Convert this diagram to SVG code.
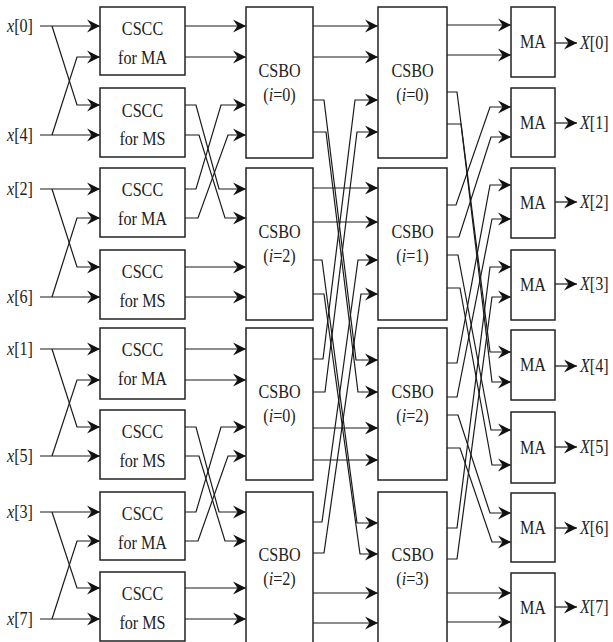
<svg xmlns="http://www.w3.org/2000/svg" width="613" height="642" viewBox="0 0 613 642" font-family="'Liberation Serif', 'Times New Roman', Times, serif">
<defs>
<marker id="ah" markerUnits="userSpaceOnUse" markerWidth="16" markerHeight="16" viewBox="-14 -8 16 16" refX="0" refY="0" orient="auto">
<path d="M0,0 L-13,-6.5 L-8.5,0 L-13,6.5 Z" fill="#111"/>
</marker>
</defs>
<style>
.box{fill:#fff;stroke:#222;stroke-width:1.5}
.t{font-family:'Liberation Serif','Times New Roman',Times,serif;font-size:19px;fill:#222}
.m{text-anchor:middle}
.i{font-style:italic}
.w{fill:none;stroke:#1a1a1a;stroke-width:1.2;marker-end:url(#ah)}
</style>
<rect width="613" height="642" fill="#fff"/>

<g id="connectors">
<path class="w" d="M40,26 H100"/><path class="w" d="M52,26 L77,105 H100"/><path class="w" d="M40,135 H100"/><path class="w" d="M52,135 L77,57 H100"/>
<path class="w" d="M40,189 H100"/><path class="w" d="M52,189 L77,267 H100"/><path class="w" d="M40,297 H100"/><path class="w" d="M52,297 L77,218 H100"/>
<path class="w" d="M40,349 H100"/><path class="w" d="M52,349 L77,427 H100"/><path class="w" d="M40,456 H100"/><path class="w" d="M52,456 L77,380 H100"/>
<path class="w" d="M40,512 H100"/><path class="w" d="M52,512 L77,588 H100"/><path class="w" d="M40,619 H100"/><path class="w" d="M52,619 L77,541 H100"/>
<path class="w" d="M185,26 H246"/><path class="w" d="M185,57 H246"/>
<path class="w" d="M185,267 H246"/><path class="w" d="M185,297 H246"/>
<path class="w" d="M185,349 H246"/><path class="w" d="M185,380 H246"/>
<path class="w" d="M185,588 H246"/><path class="w" d="M185,619 H246"/>
<path class="w" d="M185,105 H196 L219,189 H246"/>
<path class="w" d="M185,135 H199 L225,218 H246"/>
<path class="w" d="M185,189 H196 L221,105 H246"/>
<path class="w" d="M185,218 H198 L228,135 H246"/>
<path class="w" d="M185,427 H196 L219,512 H246"/>
<path class="w" d="M185,456 H199 L225,541 H246"/>
<path class="w" d="M185,512 H196 L221,427 H246"/>
<path class="w" d="M185,541 H198 L228,456 H246"/>
<path class="w" d="M313,26 H378"/><path class="w" d="M313,57 H378"/>
<path class="w" d="M313,188 H378"/><path class="w" d="M313,222 H378"/>
<path class="w" d="M313,428 H378"/><path class="w" d="M313,460 H378"/>
<path class="w" d="M313,593 H378"/><path class="w" d="M313,623 H378"/>
<path class="w" d="M313,100 H324 L356,360 H378"/>
<path class="w" d="M313,132 H326 L358,392 H378"/>
<path class="w" d="M313,359 H323 L355,100 H378"/>
<path class="w" d="M313,392 H325 L357,132 H378"/>
<path class="w" d="M313,260 H322 L357,523 H378"/>
<path class="w" d="M313,294 H324 L360,554 H378"/>
<path class="w" d="M313,522 H322 L358,260 H378"/>
<path class="w" d="M313,553 H324 L361,294 H378"/>
<path class="w" d="M447,25 H511"/><path class="w" d="M447,55 H511"/>
<path class="w" d="M447,593 H511"/><path class="w" d="M447,622 H511"/>
<path class="w" d="M447,92 H457 L490,352 H511"/>
<path class="w" d="M447,124 H461 L492,382 H511"/>
<path class="w" d="M447,205 H456 L490,107 H511"/>
<path class="w" d="M447,237 H459 L491,137 H511"/>
<path class="w" d="M447,255 H458 L491,430 H511"/>
<path class="w" d="M447,288 H460 L492,465 H511"/>
<path class="w" d="M447,363 H457 L490,185 H511"/>
<path class="w" d="M447,397 H457 L492,219 H511"/>
<path class="w" d="M447,415 H458 L490,513 H511"/>
<path class="w" d="M447,448 H460 L492,542 H511"/>
<path class="w" d="M447,528 H457 L490,267 H511"/>
<path class="w" d="M447,559 H457 L492,297 H511"/>
<path class="w" d="M555,43 H577"/><path class="w" d="M555,123 H577"/>
<path class="w" d="M555,202 H577"/><path class="w" d="M555,284 H577"/>
<path class="w" d="M555,366 H577"/><path class="w" d="M555,447 H577"/>
<path class="w" d="M555,528 H577"/><path class="w" d="M555,607 H577"/>
</g>

<g id="in0"><text class="t" transform="translate(7,32) scale(0.85,1)"><tspan class="i">x</tspan>[0]</text></g>
<g id="in4"><text class="t" transform="translate(7,141) scale(0.85,1)"><tspan class="i">x</tspan>[4]</text></g>
<g id="in2"><text class="t" transform="translate(7,195) scale(0.85,1)"><tspan class="i">x</tspan>[2]</text></g>
<g id="in6"><text class="t" transform="translate(7,303) scale(0.85,1)"><tspan class="i">x</tspan>[6]</text></g>
<g id="in1"><text class="t" transform="translate(7,355) scale(0.85,1)"><tspan class="i">x</tspan>[1]</text></g>
<g id="in5"><text class="t" transform="translate(7,462) scale(0.85,1)"><tspan class="i">x</tspan>[5]</text></g>
<g id="in3"><text class="t" transform="translate(7,518) scale(0.85,1)"><tspan class="i">x</tspan>[3]</text></g>
<g id="in7"><text class="t" transform="translate(7,625) scale(0.85,1)"><tspan class="i">x</tspan>[7]</text></g>

<g id="cscc1"><rect class="box" x="100" y="7" width="85" height="68"/><text class="t m" transform="translate(142.5,35) scale(0.85,1)">CSCC</text><text class="t m" transform="translate(142.5,64) scale(0.85,1)">for MA</text></g>
<g id="cscc2"><rect class="box" x="100" y="88" width="85" height="69"/><text class="t m" transform="translate(142.5,117) scale(0.85,1)">CSCC</text><text class="t m" transform="translate(142.5,145) scale(0.85,1)">for MS</text></g>
<g id="cscc3"><rect class="box" x="100" y="168" width="85" height="69"/><text class="t m" transform="translate(142.5,196) scale(0.85,1)">CSCC</text><text class="t m" transform="translate(142.5,225) scale(0.85,1)">for MA</text></g>
<g id="cscc4"><rect class="box" x="100" y="250" width="85" height="69"/><text class="t m" transform="translate(142.5,278) scale(0.85,1)">CSCC</text><text class="t m" transform="translate(142.5,307) scale(0.85,1)">for MS</text></g>
<g id="cscc5"><rect class="box" x="100" y="328" width="85" height="71"/><text class="t m" transform="translate(142.5,356) scale(0.85,1)">CSCC</text><text class="t m" transform="translate(142.5,385) scale(0.85,1)">for MA</text></g>
<g id="cscc6"><rect class="box" x="100" y="410" width="85" height="69"/><text class="t m" transform="translate(142.5,438) scale(0.85,1)">CSCC</text><text class="t m" transform="translate(142.5,467) scale(0.85,1)">for MS</text></g>
<g id="cscc7"><rect class="box" x="100" y="492" width="85" height="68"/><text class="t m" transform="translate(142.5,520) scale(0.85,1)">CSCC</text><text class="t m" transform="translate(142.5,549) scale(0.85,1)">for MA</text></g>
<g id="cscc8"><rect class="box" x="100" y="572" width="85" height="69"/><text class="t m" transform="translate(142.5,600) scale(0.85,1)">CSCC</text><text class="t m" transform="translate(142.5,629) scale(0.85,1)">for MS</text></g>

<g id="csboA0"><rect class="box" x="246" y="7" width="67" height="151"/><text class="t m" transform="translate(279.5,77) scale(0.85,1)">CSBO</text><text class="t m" transform="translate(279.5,101) scale(0.85,1)">(<tspan class="i">i</tspan>=0)</text></g>
<g id="csboA1"><rect class="box" x="246" y="168" width="67" height="152"/><text class="t m" transform="translate(279.5,238) scale(0.85,1)">CSBO</text><text class="t m" transform="translate(279.5,262) scale(0.85,1)">(<tspan class="i">i</tspan>=2)</text></g>
<g id="csboA2"><rect class="box" x="246" y="328" width="67" height="152"/><text class="t m" transform="translate(279.5,398) scale(0.85,1)">CSBO</text><text class="t m" transform="translate(279.5,422) scale(0.85,1)">(<tspan class="i">i</tspan>=0)</text></g>
<g id="csboA3"><rect class="box" x="246" y="492" width="67" height="160"/><text class="t m" transform="translate(279.5,561) scale(0.85,1)">CSBO</text><text class="t m" transform="translate(279.5,585) scale(0.85,1)">(<tspan class="i">i</tspan>=2)</text></g>

<g id="csboB0"><rect class="box" x="378" y="7" width="69" height="151"/><text class="t m" transform="translate(412.5,77) scale(0.85,1)">CSBO</text><text class="t m" transform="translate(412.5,101) scale(0.85,1)">(<tspan class="i">i</tspan>=0)</text></g>
<g id="csboB1"><rect class="box" x="378" y="168" width="69" height="152"/><text class="t m" transform="translate(412.5,238) scale(0.85,1)">CSBO</text><text class="t m" transform="translate(412.5,262) scale(0.85,1)">(<tspan class="i">i</tspan>=1)</text></g>
<g id="csboB2"><rect class="box" x="378" y="328" width="69" height="152"/><text class="t m" transform="translate(412.5,398) scale(0.85,1)">CSBO</text><text class="t m" transform="translate(412.5,422) scale(0.85,1)">(<tspan class="i">i</tspan>=2)</text></g>
<g id="csboB3"><rect class="box" x="378" y="492" width="69" height="160"/><text class="t m" transform="translate(412.5,561) scale(0.85,1)">CSBO</text><text class="t m" transform="translate(412.5,585) scale(0.85,1)">(<tspan class="i">i</tspan>=3)</text></g>

<g id="ma0"><rect class="box" x="511" y="7" width="44" height="70"/><text class="t m" transform="translate(533,48) scale(0.85,1)">MA</text></g>
<g id="ma1"><rect class="box" x="511" y="88" width="44" height="69"/><text class="t m" transform="translate(533,129) scale(0.85,1)">MA</text></g>
<g id="ma2"><rect class="box" x="511" y="168" width="44" height="70"/><text class="t m" transform="translate(533,209) scale(0.85,1)">MA</text></g>
<g id="ma3"><rect class="box" x="511" y="250" width="44" height="70"/><text class="t m" transform="translate(533,291) scale(0.85,1)">MA</text></g>
<g id="ma4"><rect class="box" x="511" y="330" width="44" height="70"/><text class="t m" transform="translate(533,371) scale(0.85,1)">MA</text></g>
<g id="ma5"><rect class="box" x="511" y="412" width="44" height="71"/><text class="t m" transform="translate(533,454) scale(0.85,1)">MA</text></g>
<g id="ma6"><rect class="box" x="511" y="493" width="44" height="69"/><text class="t m" transform="translate(533,534) scale(0.85,1)">MA</text></g>
<g id="ma7"><rect class="box" x="511" y="573" width="44" height="75"/><text class="t m" transform="translate(533,614) scale(0.85,1)">MA</text></g>

<g id="out0"><text class="t" transform="translate(580,49) scale(0.85,1)"><tspan class="i">X</tspan>[0]</text></g>
<g id="out1"><text class="t" transform="translate(580,129) scale(0.85,1)"><tspan class="i">X</tspan>[1]</text></g>
<g id="out2"><text class="t" transform="translate(580,208) scale(0.85,1)"><tspan class="i">X</tspan>[2]</text></g>
<g id="out3"><text class="t" transform="translate(580,290) scale(0.85,1)"><tspan class="i">X</tspan>[3]</text></g>
<g id="out4"><text class="t" transform="translate(580,372) scale(0.85,1)"><tspan class="i">X</tspan>[4]</text></g>
<g id="out5"><text class="t" transform="translate(580,453) scale(0.85,1)"><tspan class="i">X</tspan>[5]</text></g>
<g id="out6"><text class="t" transform="translate(580,534) scale(0.85,1)"><tspan class="i">X</tspan>[6]</text></g>
<g id="out7"><text class="t" transform="translate(580,613) scale(0.85,1)"><tspan class="i">X</tspan>[7]</text></g>
</svg>
